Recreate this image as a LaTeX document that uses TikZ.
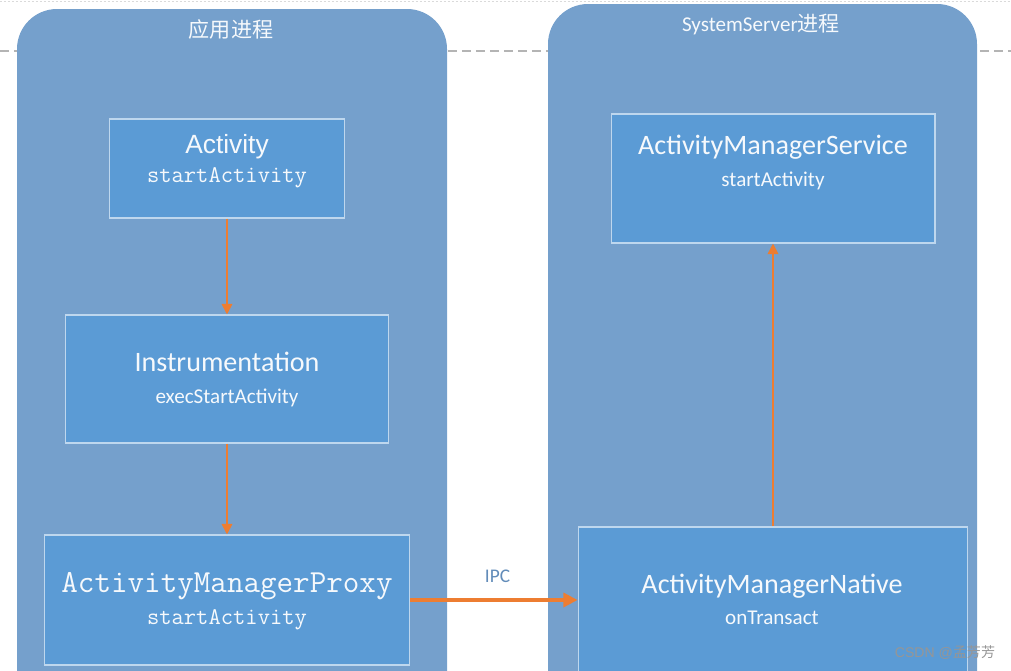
\documentclass[tikz,border=0pt]{standalone}
\usepackage{fontspec}
\setmainfont{Carlito}
\newfontfamily\cjk{Noto Sans CJK SC}
\newfontfamily\arialfont{Liberation Sans}
\usetikzlibrary{arrows.meta, positioning}
\definecolor{panelblue}{RGB}{117,160,204}
\definecolor{boxblue}{RGB}{91,155,213}
\definecolor{boxline}{RGB}{190,215,238}
\definecolor{txtwhite}{RGB}{246,249,252}
\definecolor{myorange}{RGB}{237,125,49}
\definecolor{ipcblue}{RGB}{98,140,185}
\definecolor{dashgray}{RGB}{180,180,180}
\definecolor{markgray}{RGB}{150,150,150}
\newcommand\subtxt[1]{{\fontsize{12}{14}\selectfont #1}}
\newcommand\monosub[1]{{\ttfamily\fontsize{13.6}{15}\selectfont #1}}
\tikzset{
  panel/.style={fill=panelblue, rounded corners=0.8cm},
  box/.style={rectangle, draw=boxline, fill=boxblue, line width=0.6pt, inner sep=0pt},
  boxtext/.style={align=center, text=txtwhite, inner sep=0pt, font=\fontsize{16}{18}\selectfont},
  title/.style={text=txtwhite, inner sep=0pt, font=\fontsize{12}{14}\selectfont},
  ipclabel/.style={text=ipcblue, inner sep=0pt, font=\fontsize{11}{13}\selectfont},
  wmark/.style={text=markgray, inner sep=0pt, font=\fontsize{8}{10}\selectfont},
  flow/.style={-{Triangle[length=6pt, width=6pt]}, line width=1pt, color=myorange},
  ipc/.style={-{Triangle[length=8pt, width=8pt]}, line width=1.8pt, color=myorange}
}
\begin{document}
\begin{tikzpicture}[x=0.02cm, y=-0.02cm]
  \useasboundingbox (0,0) rectangle (1011,670);
  \clip (0,0) rectangle (1011,670);
  % page guides
  \draw[dashgray!50, line width=0.5pt, dash pattern=on 0.04cm off 0.04cm] (0,1) -- (1011,1);
  \draw[dashgray, line width=0.6pt, dash pattern=on 0.18cm off 0.1cm] (0,51) -- (1011,51);

  % process panels
  \fill[panel] (17,9) rectangle (447,720);
  \fill[panel] (548,4) rectangle (977,720);
  \node[title] (apptitle) at (231,29) {\cjk 应用进程};
  \node[title] (systitle) at (761,24) {SystemServer{\cjk 进程}};

  % app side
  \node[box, minimum width=4.70cm, minimum height=1.98cm] (act) at (227,168.5) {};
  \node[boxtext] (acttext) at (227,161) {{\arialfont\fontsize{15}{18}\selectfont Activity}\\[-1.8pt]\monosub{startActivity}};
  \node[box, minimum width=6.48cm, minimum height=2.56cm] (instr) at (227,379) {};
  \node[boxtext] (instrtext) at (227,379.5) {Instrumentation\\\subtxt{execStartActivity}};
  \node[box, minimum width=7.32cm, minimum height=2.60cm] (proxy) at (227,600) {};
  \node[boxtext] (proxytext) at (227,601) {{\ttfamily\fontsize{18.3}{20}\selectfont ActivityManagerProxy}\\[0pt]\monosub{startActivity}};

  % system server side
  \node[box, minimum width=6.48cm, minimum height=2.58cm] (ams) at (773,178.5) {};
  \node[boxtext] (amstext) at (773,162.5) {ActivityManagerService\\\subtxt{startActivity}};
  \node[box, minimum width=7.80cm, minimum height=2.92cm] (amn) at (773,600) {};
  \node[boxtext] (amntext) at (772,599.5) {ActivityManagerNative\\\subtxt{onTransact}};

  % calls
  \draw[flow] (act) -- (instr);
  \draw[flow] (instr) -- (proxy);
  \draw[flow] (amn) -- (ams);
  \draw[ipc] (proxy) -- node[above=9pt, xshift=2pt, ipclabel] (ipctext) {IPC} (amn);

  \node[wmark] (csdn) at (945,653) {\arialfont CSDN @{\cjk 孟芳芳}};
\end{tikzpicture}
\end{document}
